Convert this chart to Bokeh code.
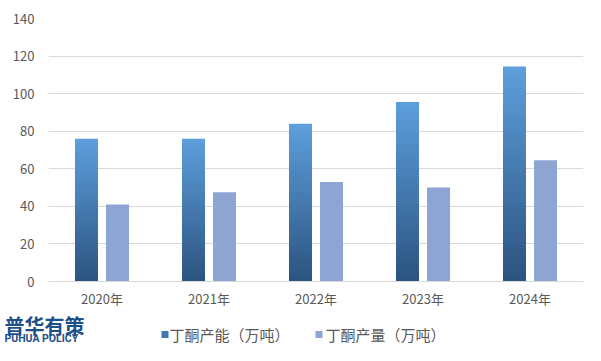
from bokeh.plotting import figure
from bokeh.models import (FactorRange, Range1d, ColumnDataSource, FixedTicker)
from bokeh.transform import dodge
from bokeh.core.properties import value
from bokeh.embed import file_html
from bokeh.resources import INLINE

# ---- data ----
years = ["2020年", "2021年", "2022年", "2023年", "2024年"]
capacity = [76, 76, 84, 95.5, 114.5]        # 丁酮产能（万吨）
production = [41, 47.5, 53, 50, 64.5]       # 丁酮产量（万吨）
y_ticks = [0, 20, 40, 60, 80, 100, 120, 140]
series_names = ["丁酮产能（万吨）", "丁酮产量（万吨）"]
logo_cn = "普华有策"
logo_en = "PUHUA POLICY"

# ---- style ----
FONT = "Noto Sans CJK SC"
TXT = "#595959"
GRID = "#D9D9D9"
BOTTOM_RGB = (44, 84, 128)
TOP_RGB = (93, 158, 220)
PROD_COLOR = "#8EA5D4"
CAP_LEGEND = "#3F78B2"
LOGO_COLOR = "#1D4F8B"
OFF = 0.145
BW = 0.215
N = 60
W = 585
H1 = 310
H2 = 35


def mix(t):
    r = [round(b + (a - b) * t) for a, b in zip(TOP_RGB, BOTTOM_RGB)]
    return "#%02x%02x%02x" % tuple(r)


# gradient slices for the capacity bars (derived from the capacity values)
gx, gb, gt, gc = [], [], [], []
for yr, v in zip(years, capacity):
    for k in range(N):
        gx.append(yr)
        gb.append(v * k / N)
        gt.append(min(v, v * (k + 1) / N + 0.4))
        gc.append(mix(k / (N - 1)))
grad_src = ColumnDataSource(dict(year=gx, bottom=gb, top=gt, color=gc))
prod_src = ColumnDataSource(dict(year=years, top=production))

p = figure(x_range=FactorRange(factors=years), y_range=Range1d(0, 140),
           width=W, height=H1, output_backend="svg", toolbar_location=None,
           min_border_left=48, min_border_right=2, min_border_top=18,
           min_border_bottom=H1 - 18 - 263)
p.outline_line_color = None
p.background_fill_color = "white"
p.border_fill_color = "white"

p.xgrid.grid_line_color = None
p.ygrid.grid_line_color = GRID
p.ygrid.grid_line_width = 1
p.yaxis.ticker = FixedTicker(ticks=y_ticks)

for ax in (p.xaxis[0], p.yaxis[0]):
    ax.major_tick_line_color = None
    ax.minor_tick_line_color = None
    ax.major_tick_out = 0
    ax.major_tick_in = 0
    ax.minor_tick_out = 0
    ax.major_label_text_font = FONT
    ax.major_label_text_font_size = "13px"
    ax.major_label_text_color = TXT
p.yaxis.axis_line_color = None
p.xaxis.axis_line_color = GRID
p.yaxis.major_label_standoff = 14
p.xaxis.major_label_standoff = 7

p.vbar(x=dodge("year", -OFF, range=p.x_range), bottom="bottom", top="top",
       width=BW, source=grad_src, fill_color="color", line_color=None)
p.vbar(x=dodge("year", OFF, range=p.x_range), top="top", width=BW,
       source=prod_src, fill_color=PROD_COLOR, line_color=None)

# ---- bottom strip (separate root): logo + legend ----
q = figure(x_range=Range1d(0, W), y_range=Range1d(H2, 0), width=W, height=H2,
           output_backend="svg", toolbar_location=None, min_border=0,
           min_border_left=0, min_border_right=0, min_border_top=0,
           min_border_bottom=0, x_axis_type=None, y_axis_type=None)
q.outline_line_color = None
q.grid.visible = False
q.background_fill_color = "white"
q.border_fill_color = "white"

ly = 334 - H1  # legend centre line inside the strip
q.quad(left=[161, 315], right=[168, 322], top=[ly - 3.5, ly - 3.5],
       bottom=[ly + 3.5, ly + 3.5],
       fill_color=[CAP_LEGEND, PROD_COLOR], line_color=None)
q.text(x=[169, 325], y=[ly, ly], text=series_names,
       text_font=value(FONT), text_font_size="15px", text_color=TXT,
       text_baseline="middle", text_align="left")

q.text(x=[4], y=[0], text=[logo_cn], text_font=value(FONT),
       text_font_style="bold", text_font_size="20px", text_color=LOGO_COLOR,
       text_baseline="top", text_align="left")
q.text(x=[4], y=[21.5], text=[logo_en], text_font=value("Roboto"),
       text_font_style="bold", text_font_size="10.5px", text_color=LOGO_COLOR,
       text_baseline="top", text_align="left")

open("out.html", "w").write(file_html([p, q], INLINE))
